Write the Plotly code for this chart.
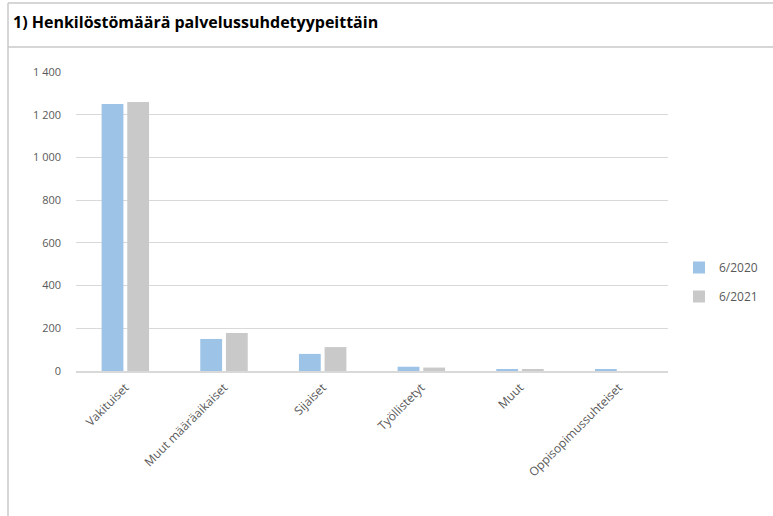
import plotly.graph_objects as go

categories = ["Vakituiset", "Muut määräaikaiset", "Sijaiset", "Työllistetyt", "Muut", "Oppisopimussuhteiset"]
series_2020 = [1250, 150, 80, 20, 6, 6]
series_2021 = [1259, 178, 112, 16, 5, 0]
series_names = ["6/2020", "6/2021"]
y_tickvals = [0, 200, 400, 600, 800, 1000, 1200, 1400]
y_ticktext = ["0", "200", "400", "600", "800", "1 000", "1 200", "1 400"]
title_text = "1) Henkilöstömäärä palvelussuhdetyypeittäin"

W, H = 773, 516
L, R, T, B = 76, 668, 72, 371

def px_x(px):
    return (px - L) / (R - L)

def px_y(py):
    return (B - py) / (B - T)

fig = go.Figure()
fig.add_trace(go.Bar(x=categories, y=series_2020, name=series_names[0],
                     marker=dict(color="#9DC3E6", line=dict(width=0)), legendgroup="a"))
fig.add_trace(go.Bar(x=categories, y=series_2021, name=series_names[1],
                     marker=dict(color="#C9C9C9", line=dict(width=0)), legendgroup="b"))

line_col = "#C8C8C8"
shapes = [
    dict(type="line", xref="paper", yref="paper", x0=px_x(8), x1=px_x(W + 5), y0=px_y(3), y1=px_y(3),
         line=dict(color=line_col, width=1.5)),
    dict(type="line", xref="paper", yref="paper", x0=px_x(8), x1=px_x(W + 5), y0=px_y(47), y1=px_y(47),
         line=dict(color=line_col, width=1.5)),
    dict(type="line", xref="paper", yref="paper", x0=px_x(8), x1=px_x(8), y0=px_y(3), y1=px_y(H + 5),
         line=dict(color=line_col, width=1.5)),
]

fig.update_layout(
    width=W, height=H,
    margin=dict(l=L, r=W - R, t=T, b=H - B, pad=0, autoexpand=False),
    paper_bgcolor="white", plot_bgcolor="white",
    font=dict(family="Open Sans, Noto Sans, sans-serif", size=12, color="#595959"),
    barmode="group", bargap=0.48, bargroupgap=0.15,
    showlegend=True,
    legend=dict(x=px_x(679), y=px_y(253), xanchor="left", yanchor="top",
                font=dict(size=12, color="#595959"), tracegroupgap=10,
                bgcolor="rgba(0,0,0,0)", itemwidth=30),
    shapes=shapes,
    annotations=[dict(text="<b>" + title_text + "</b>", xref="paper", yref="paper",
                      x=px_x(11), y=px_y(22), xanchor="left", yanchor="middle", showarrow=False,
                      font=dict(size=16, color="#000000", family="Open Sans, Noto Sans, sans-serif"))],
)
fig.update_xaxes(tickangle=-45, showgrid=False, showline=True, linecolor="#D9D9D9", linewidth=1.5,
                 ticks="", ticklabelstandoff=3, tickfont=dict(size=12, color="#595959"))
fig.update_yaxes(range=[0, 1400], tickvals=y_tickvals, ticktext=y_ticktext, showgrid=True,
                 gridcolor="#D9D9D9", gridwidth=1, zeroline=False, showline=False, ticks="",
                 ticklabelstandoff=14, tickfont=dict(size=11, color="#595959"))

fig.write_html("out.html", config={"displayModeBar": False},
               post_script="document.body.style.margin='0';document.body.style.overflow='hidden';")
